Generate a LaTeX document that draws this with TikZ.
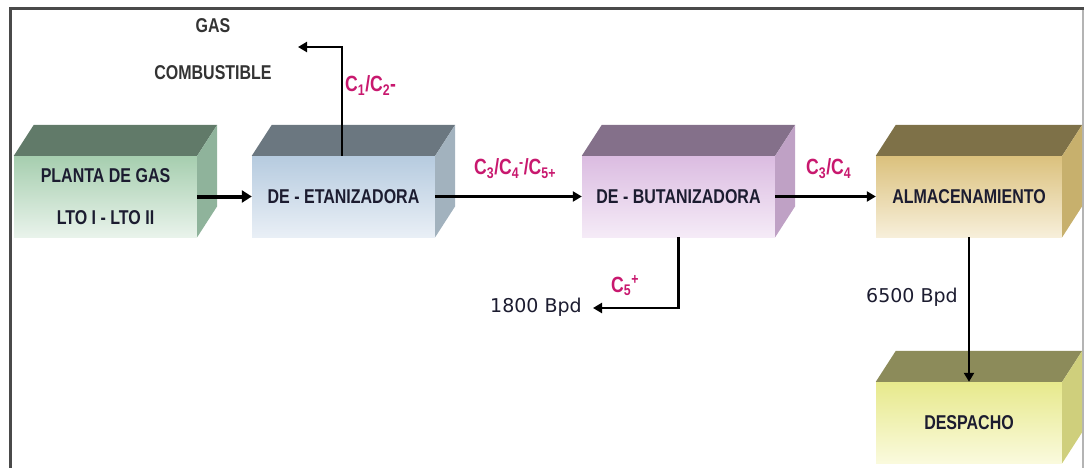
\documentclass[tikz,border=0pt]{standalone}
\usepackage{fontspec}
\setmainfont{Liberation Sans}
\newfontfamily\boxfont[FakeStretch=0.8]{Liberation Sans}
\newfontfamily\flowfont{DejaVu Sans}
\usetikzlibrary{arrows.meta,calc}

\definecolor{boxtext}{HTML}{1C1C30}
\definecolor{lblmag}{HTML}{C8186E}
\definecolor{framedark}{HTML}{4A4A4A}
\definecolor{frameright}{HTML}{B4B4B4}
% plant (green)
\definecolor{gnA}{HTML}{A6CEAF}\definecolor{gnB}{HTML}{E9F3EB}
\definecolor{gnTop}{HTML}{617A69}\definecolor{gnSide}{HTML}{8FB39B}
% de-ethanizer (blue)
\definecolor{blA}{HTML}{B6CBDF}\definecolor{blB}{HTML}{E9EFF6}
\definecolor{blTop}{HTML}{6B7780}\definecolor{blSide}{HTML}{A2B2BE}
% de-butanizer (violet)
\definecolor{vlA}{HTML}{DBBCE1}\definecolor{vlB}{HTML}{F5EBF7}
\definecolor{vlTop}{HTML}{84708A}\definecolor{vlSide}{HTML}{BFA1C5}
% storage (ochre)
\definecolor{ocA}{HTML}{DBC17D}\definecolor{ocB}{HTML}{F7EFDA}
\definecolor{ocTop}{HTML}{7E7148}\definecolor{ocSide}{HTML}{C7B06D}
% dispatch (yellow)
\definecolor{ylA}{HTML}{E7E98C}\definecolor{ylB}{HTML}{FAFADD}
\definecolor{ylTop}{HTML}{8C8B5A}\definecolor{ylSide}{HTML}{CFCF7C}

% top and side faces of a cuboid whose front face is node #1
\newcommand\cubefaces[3]{%
  \fill[#2] (#1.north west) -- ++(20,-31) -- ($(#1.north east)+(20,-31)$) -- (#1.north east) -- cycle;
  \fill[#3] (#1.north east) -- ++(20,-31) -- ($(#1.south east)+(20,-31)$) -- (#1.south east) -- cycle;
}

\tikzset{
  box/.style={minimum height=81pt, inner sep=0pt, align=center, text=boxtext,
    font=\boxfont\bfseries\fontsize{20}{22}\selectfont},
  flow/.style={line width=2.5pt, -{Triangle[length=9pt,width=10pt]}},
  feed/.style={line width=4pt, -{Triangle[length=10pt,width=12pt]}},
  lbl/.style={inner sep=0pt, text=lblmag, font=\boxfont\bfseries\fontsize{22}{24}\selectfont},
  gaslbl/.style={inner sep=0pt, text=black!80, font=\boxfont\bfseries\fontsize{20}{22}\selectfont},
  rate/.style={inner sep=0pt, text=boxtext, font=\flowfont\fontsize{19}{21}\selectfont},
}

\begin{document}
\begin{tikzpicture}[x=1pt,y=-1pt]
\useasboundingbox (0,0) rectangle (1084,468);

% frame
\draw[framedark, line width=3pt] (10,468) -- (10,9) -- (1084,9);
\draw[frameright, line width=1.5pt] (1083,10) -- (1083,468);

% process units (front faces)
\node[box, minimum width=183pt, top color=gnA, bottom color=gnB] (plant) at (105.5,196.5)
  {PLANTA DE GAS\\[20pt]LTO I - LTO II};
\node[box, minimum width=183pt, top color=blA, bottom color=blB] (deeth) at (343.5,196.5)
  {\raisebox{-2.5pt}{DE - ETANIZADORA}};
\node[box, minimum width=193pt, top color=vlA, bottom color=vlB] (debut) at (678.5,196.5)
  {\raisebox{-1.5pt}{DE - BUTANIZADORA}};
\node[box, minimum width=186pt, top color=ocA, bottom color=ocB] (store) at (969,196.5)
  {\raisebox{-1.5pt}{ALMACENAMIENTO}};
\node[box, minimum width=186pt, top color=ylA, bottom color=ylB] (ship) at (969,422.5)
  {DESPACHO};

\cubefaces{plant}{gnTop}{gnSide}
\cubefaces{deeth}{blTop}{blSide}
\cubefaces{debut}{vlTop}{vlSide}
\cubefaces{store}{ocTop}{ocSide}
\cubefaces{ship}{ylTop}{ylSide}

% free ends of the outlet streams
\coordinate (fuelout) at (298,47);
\coordinate (heavyout) at (593,308);

% streams
\draw[feed] (plant.east) -- (deeth.west);
\draw[flow] (deeth.north) ++(-1.5,0) |- (fuelout);
\draw[flow] (deeth.east) -- (debut.west);
\draw[flow] (debut.east) -- (store.west);
\draw[flow] (debut.south) |- (heavyout);
\draw[flow] (store.south) -- (ship.north);

% labels
\node[gaslbl, anchor=base] (gas1) at (213,33) {GAS};
\node[gaslbl, anchor=base] (gas2) at (213,80) {COMBUSTIBLE};
\node[lbl, anchor=base west] (lc12) at (345,92) {C\textsubscript{1}/C\textsubscript{2}-};
\node[lbl, anchor=base west] (lc345) at (474,175)
  {C\textsubscript{3}/C\textsubscript{4}\textsuperscript{-}/C\textsubscript{5+}};
\node[lbl, anchor=base west] (lc34) at (806,175) {C\textsubscript{3}/C\textsubscript{4}};
\node[lbl, anchor=base west] (lc5) at (611,292) {C\textsubscript{5}\textsuperscript{+}};
\node[rate, anchor=base west] (r1800) at (490,312) {1800 Bpd};
\node[rate, anchor=base west] (r6500) at (866,302) {6500 Bpd};
\end{tikzpicture}
\end{document}
